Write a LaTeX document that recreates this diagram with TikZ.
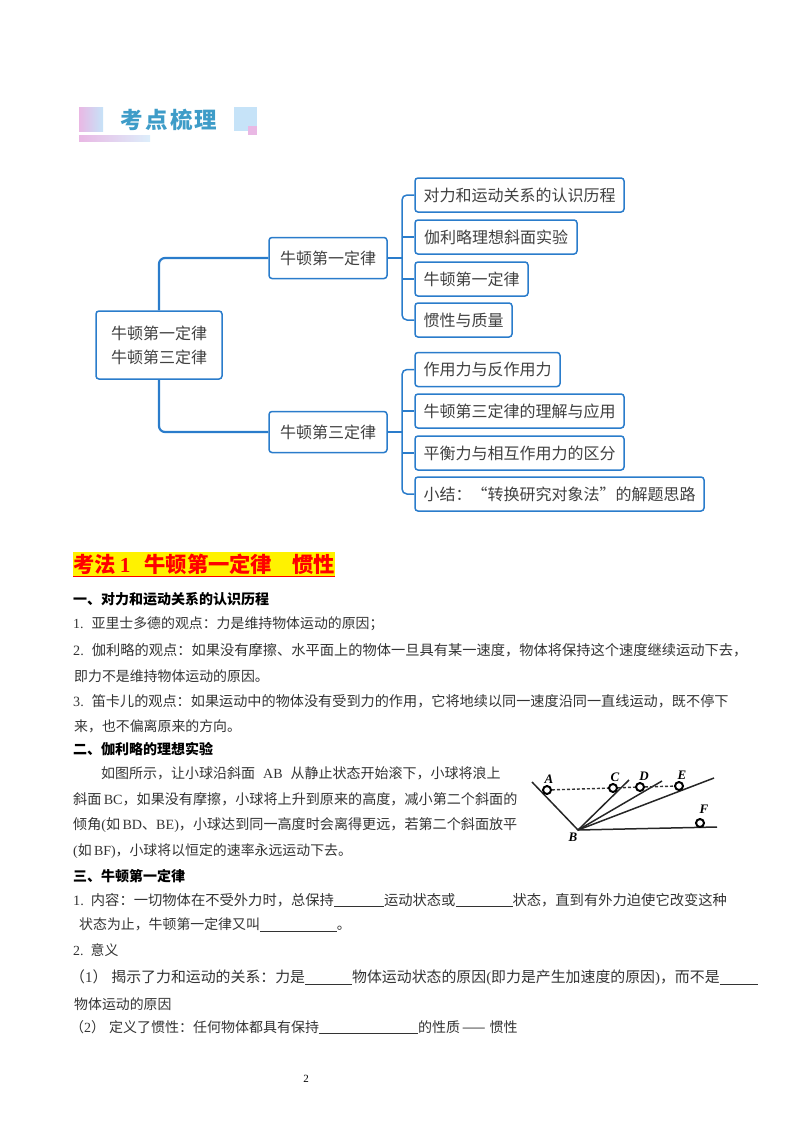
\documentclass[tikz,border=0pt]{standalone}
\usepackage{fontspec}
\setmainfont{Noto Sans CJK SC}
\newfontfamily\latfont{Liberation Serif}
\newcommand{\lat}[1]{{\latfont #1}}
\newcommand{\blank}[1]{\underline{\hspace*{#1pt}}}
\newcommand{\bodysize}[1]{\fontsize{#1pt}{16pt}\selectfont}
\usetikzlibrary{positioning}

\definecolor{mapblue}{HTML}{2A7CCB}
\definecolor{titleblue}{HTML}{3E9CC8}
\definecolor{ruby}{HTML}{E9B8E4}
\definecolor{sky}{HTML}{C6E3F8}

\tikzset{
  mapbox/.style={draw=mapblue, line width=1.5pt, rounded corners=3pt, fill=white, inner sep=0pt,
    text=black!75, font=\fontsize{16pt}{24pt}\selectfont, align=center},
  leafbox/.style={mapbox, minimum height=34pt},
  link/.style={draw=mapblue, line width=1.5pt, rounded corners=5pt},
  mainlink/.style={draw=mapblue, line width=2.2pt, rounded corners=6pt},
  bodyline/.style={anchor=west, inner sep=0pt, text=black!80, font=\bodysize{13.9}},
  headline/.style={anchor=west, inner sep=0pt, text=black, font=\fontsize{14pt}{16pt}\selectfont\bfseries},
  ball/.style={draw=black, line width=2pt, fill=white, circle, minimum size=8pt, inner sep=0pt},
  ramp/.style={line width=1.5pt, black!85},
  trail/.style={black!80, line width=1.4pt, densely dashed},
  rampname/.style={inner sep=0pt, font=\latfont\bfseries\itshape\fontsize{13pt}{14pt}\selectfont}
}

\begin{document}
\begin{tikzpicture}[x=1pt,y=-1pt]
\useasboundingbox (0,0) rectangle (800,1132);

% banner
\shade [left color=ruby, right color=sky] (79,107) rectangle (103,131);
\fill [sky] (234,107) rectangle (257,131);
\fill [ruby] (248,126) rectangle (257,135);
\shade [left color=ruby, right color=sky!60] (79,135) rectangle (150,141);
\node (banner) at (169,120) [inner sep=0pt, text=titleblue, font=\fontsize{22.5pt}{24pt}\selectfont\bfseries\addfontfeature{LetterSpace=9}] {考点梳理};

% map
\node (root) at (159,345) [mapbox, minimum width=126pt, minimum height=68pt] {牛顿第一定律\\牛顿第三定律};
\node (first) at (328,258) [mapbox, minimum width=118pt, minimum height=41pt] {牛顿第一定律};
\node (third) at (328,432) [mapbox, minimum width=118pt, minimum height=41pt] {牛顿第三定律};

\node (a1) at (519.5,195) [leafbox, minimum width=209pt] {对力和运动关系的认识历程};
\node (a2) at (496,237) [leafbox, minimum width=162pt] {伽利略理想斜面实验};
\node (a3) at (471.5,279) [leafbox, minimum width=113pt] {牛顿第一定律};
\node (a4) at (463.5,320) [leafbox, minimum width=97pt] {惯性与质量};
\node (b1) at (487.5,369.5) [leafbox, minimum width=145pt] {作用力与反作用力};
\node (b2) at (519.5,411) [leafbox, minimum width=209pt] {牛顿第三定律的理解与应用};
\node (b3) at (519.5,453) [leafbox, minimum width=209pt] {平衡力与相互作用力的区分};
\node (b4) at (559.5,494) [leafbox, minimum width=289pt] {小结：“转换研究对象法”的解题思路};

\coordinate (forka) at (402,258);
\coordinate (forkb) at (402,432);

\draw [mainlink] (root.north) |- (first.west);
\draw [mainlink] (root.south) |- (third.west);
\draw [link] (first.east) -- (forka);
\draw [link] (third.east) -- (forkb);
\draw [link] (a1.west) -| (forka) |- (a4.west);
\draw [link] (forka |- a2.west) -- (a2.west);
\draw [link] (forka |- a3.west) -- (a3.west);
\draw [link] (b1.west) -| (forkb) |- (b4.west);
\draw [link] (forkb |- b2.west) -- (b2.west);
\draw [link] (forkb |- b3.west) -- (b3.west);

% heading
\node (law) at (73,564) [anchor=west, fill=yellow, inner sep=0pt, minimum height=25pt, text=red,
  font=\fontsize{21.3pt}{24pt}\selectfont\bfseries] {考法\hspace{4pt}\lat{\bfseries 1}\hspace{14pt}牛顿第一定律\hspace{20pt}惯性};
\draw [red, line width=1.2pt] (law.south west) -- (law.south east);

% text
\node (t1) at (73,599) [headline] {一、对力和运动关系的认识历程};
\node (t2) at (73,624) [bodyline] {\lat{1.}\hspace{8pt}亚里士多德的观点：力是维持物体运动的原因；};
\node (t3) at (73,650) [bodyline, font=\bodysize{14.25}] {\lat{2.}\hspace{8pt}伽利略的观点：如果没有摩擦、水平面上的物体一旦具有某一速度，物体将保持这个速度继续运动下去，};
\node (t4) at (74,676) [bodyline] {即力不是维持物体运动的原因。};
\node (t5) at (73,701) [bodyline, font=\bodysize{14.15}] {\lat{3.}\hspace{8pt}笛卡儿的观点：如果运动中的物体没有受到力的作用，它将地续以同一速度沿同一直线运动，既不停下};
\node (t6) at (74,726) [bodyline] {来，也不偏离原来的方向。};
\node (t7) at (73,749) [headline] {二、伽利略的理想实验};
\node (t8) at (101,773) [bodyline, font=\bodysize{14}] {如图所示，让小球沿斜面\hspace{8pt}\lat{AB}\hspace{8pt}从静止状态开始滚下，小球将浪上};
\node (t9) at (73,799) [bodyline, font=\bodysize{14.1}] {斜面\,\lat{BC}，如果没有摩擦，小球将上升到原来的高度，减小第二个斜面的};
\node (t10) at (73,825) [bodyline, font=\bodysize{14.1}] {倾角\lat{(}如\,\lat{BD}、\lat{BE)}，小球达到同一高度时会离得更远，若第二个斜面放平};
\node (t11) at (73,851) [bodyline] {\lat{(}如\,\lat{BF)}，小球将以恒定的速率永远运动下去。};
\node (t12) at (73,876) [headline] {三、牛顿第一定律};
\node (t13) at (73,900) [bodyline, font=\bodysize{14.3}] {\lat{1.}\hspace{7pt}内容：一切物体在不受外力时，总保持\blank{50}运动状态或\blank{57}状态，直到有外力迫使它改变这种};
\node (t14) at (79,925) [bodyline] {状态为止，牛顿第一定律又叫\blank{77}。};
\node (t15) at (73,950) [bodyline] {\lat{2.}\hspace{7pt}意义};
\node (t16) at (70,978) [bodyline, font=\bodysize{14.9}] {（\lat{1}）\hspace{4pt}揭示了力和运动的关系：力是\blank{47}物体运动状态的原因\lat{(}即力是产生加速度的原因\lat{)}，而不是\blank{38}};
\node (t17) at (74,1004) [bodyline] {物体运动的原因};
\node (t18) at (70,1027) [bodyline, font=\bodysize{14}] {（\lat{2}）\hspace{4pt}定义了惯性：任何物体都具有保持\blank{99}的性质\hspace{2pt}——\hspace{4pt}惯性};
\node (pagenum) at (306,1079) [inner sep=0pt, font=\latfont\fontsize{11pt}{12pt}\selectfont] {2};

% ramps
\coordinate (B) at (578,830);
\draw [ramp] (532,782) -- (B) -- (629,780);
\draw [ramp] (B) -- (662,781);
\draw [ramp] (B) -- (714,778);
\draw [ramp] (B) -- (717,827);
\node (ballA) at (547,790) [ball] {};
\node (ballC) at (613,788) [ball] {};
\node (ballD) at (640,787) [ball] {};
\node (ballE) at (679,786) [ball] {};
\node (ballF) at (700,823) [ball] {};
\draw [trail] (ballA) -- (ballC);
\draw [trail] (ballC) -- (ballD);
\draw [trail] (ballD) -- (ballE);
\node (nameA) at (549,779) [rampname] {A};
\node (nameC) at (615,777) [rampname] {C};
\node (nameD) at (644,776) [rampname] {D};
\node (nameE) at (682,775) [rampname] {E};
\node (nameF) at (704,809) [rampname] {F};
\node (nameB) at (573,837) [rampname] {B};
\end{tikzpicture}
\end{document}
